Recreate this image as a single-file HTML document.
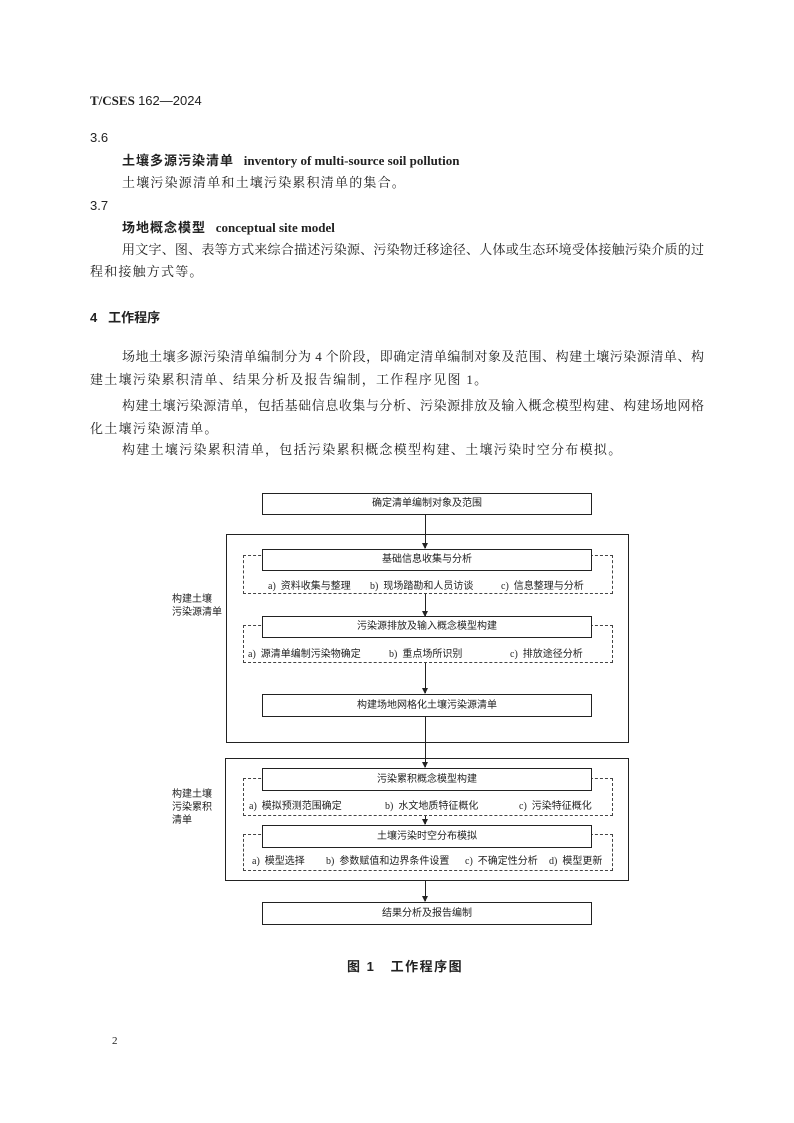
<!DOCTYPE html>
<html><head><meta charset="utf-8">
<style>
body{margin:0;background:#fff;}
#p{position:relative;width:794px;height:1123px;overflow:hidden;background:#fff;font-family:"Liberation Serif","Noto Serif CJK SC","Noto Sans CJK SC",serif;color:#222;font-size:13px;}
.t{position:absolute;white-space:nowrap;line-height:16px;}
.j{position:absolute;white-space:nowrap;line-height:16px;text-align:justify;text-align-last:justify;}
.b{font-family:"Liberation Serif","Noto Sans CJK SC",sans-serif;font-weight:bold;}
.s{font-family:"Liberation Sans","Noto Sans CJK SC",sans-serif;}
.box{position:absolute;border:1.3px solid #222;background:#fff;box-sizing:border-box;font-family:"Liberation Sans","Noto Sans CJK SC",sans-serif;font-size:10px;text-align:center;}
.ob{position:absolute;border:1.3px solid #222;box-sizing:border-box;}
.dash{position:absolute;border:1px dashed #444;box-sizing:border-box;}
.it{position:absolute;font-size:10px;white-space:nowrap;font-family:"Liberation Serif","Noto Sans CJK SC",sans-serif;}
.vl{position:absolute;left:425px;width:1px;background:#222;}
.ah{position:absolute;left:422px;width:0;height:0;border-left:3.5px solid transparent;border-right:3.5px solid transparent;border-top:6px solid #222;}
.lab{position:absolute;font-size:10px;line-height:13px;font-family:"Liberation Sans","Noto Sans CJK SC",sans-serif;}
</style></head><body><div id="p">
<div class="t" style="left:90px;top:93px;"><span class="b" style="font-weight:bold">T/CSES</span> <span class="s">162—2024</span></div>
<div class="t s" style="left:90px;top:130px;">3.6</div>
<div class="t" style="left:122px;top:153px;"><span class="s" style="font-weight:bold;letter-spacing:1px">土壤多源污染清单</span>&nbsp;&nbsp;&nbsp;<b>inventory of multi-source soil pollution</b></div>
<div class="t" style="left:122px;top:175px;letter-spacing:1.2px;">土壤污染源清单和土壤污染累积清单的集合。</div>
<div class="t s" style="left:90px;top:198px;">3.7</div>
<div class="t" style="left:122px;top:220px;"><span class="s" style="font-weight:bold;letter-spacing:1px">场地概念模型</span>&nbsp;&nbsp;&nbsp;<b>conceptual site model</b></div>
<div class="j" style="left:122px;top:242px;width:582px;">用文字、图、表等方式来综合描述污染源、污染物迁移途径、人体或生态环境受体接触污染介质的过</div>
<div class="t" style="left:90px;top:264px;letter-spacing:1.2px;">程和接触方式等。</div>
<div class="t s" style="left:90px;top:310px;font-weight:bold;">4&nbsp;&nbsp;&nbsp;工作程序</div>
<div class="j" style="left:122px;top:349px;width:582px;">场地土壤多源污染清单编制分为 4 个阶段，即确定清单编制对象及范围、构建土壤污染源清单、构</div>
<div class="t" style="left:90px;top:372px;letter-spacing:1.3px;">建土壤污染累积清单、结果分析及报告编制，工作程序见图 1。</div>
<div class="j" style="left:122px;top:398px;width:582px;">构建土壤污染源清单，包括基础信息收集与分析、污染源排放及输入概念模型构建、构建场地网格</div>
<div class="t" style="left:90px;top:421px;letter-spacing:1.3px;">化土壤污染源清单。</div>
<div class="t" style="left:122px;top:442px;letter-spacing:1.3px;">构建土壤污染累积清单，包括污染累积概念模型构建、土壤污染时空分布模拟。</div>

<div class="ob" style="left:226px;top:534px;width:403px;height:209px;"></div>
<div class="ob" style="left:225px;top:758px;width:404px;height:123px;"></div>

<div class="dash" style="left:243px;top:555px;width:370px;height:39px;"></div>
<div class="dash" style="left:243px;top:625px;width:370px;height:38px;"></div>
<div class="dash" style="left:243px;top:778px;width:370px;height:38px;"></div>
<div class="dash" style="left:243px;top:834px;width:370px;height:37px;"></div>

<div class="vl" style="top:514px;height:34px;"></div><div class="ah" style="top:543px;"></div>
<div class="vl" style="top:594px;height:22px;"></div><div class="ah" style="top:611px;"></div>
<div class="vl" style="top:663px;height:30px;"></div><div class="ah" style="top:688px;"></div>
<div class="vl" style="top:716px;height:51px;"></div><div class="ah" style="top:762px;"></div>
<div class="vl" style="top:816px;height:8px;"></div><div class="ah" style="top:819px;"></div>
<div class="vl" style="top:881px;height:20px;"></div><div class="ah" style="top:896px;"></div>

<div class="box" style="left:262px;top:493px;width:330px;height:22px;line-height:20px;">确定清单编制对象及范围</div>
<div class="box" style="left:262px;top:549px;width:330px;height:22px;line-height:20px;">基础信息收集与分析</div>
<div class="box" style="left:262px;top:616px;width:330px;height:22px;line-height:20px;">污染源排放及输入概念模型构建</div>
<div class="box" style="left:262px;top:694px;width:330px;height:23px;line-height:21px;">构建场地网格化土壤污染源清单</div>
<div class="box" style="left:262px;top:768px;width:330px;height:23px;line-height:21px;">污染累积概念模型构建</div>
<div class="box" style="left:262px;top:825px;width:330px;height:23px;line-height:21px;">土壤污染时空分布模拟</div>
<div class="box" style="left:262px;top:902px;width:330px;height:23px;line-height:21px;">结果分析及报告编制</div>

<div class="it" style="left:268px;top:577px;">a)&nbsp;&nbsp;资料收集与整理</div>
<div class="it" style="left:370px;top:577px;">b)&nbsp;&nbsp;现场踏勘和人员访谈</div>
<div class="it" style="left:501px;top:577px;">c)&nbsp;&nbsp;信息整理与分析</div>
<div class="it" style="left:248px;top:645px;">a)&nbsp;&nbsp;源清单编制污染物确定</div>
<div class="it" style="left:389px;top:645px;">b)&nbsp;&nbsp;重点场所识别</div>
<div class="it" style="left:510px;top:645px;">c)&nbsp;&nbsp;排放途径分析</div>
<div class="it" style="left:249px;top:797px;">a)&nbsp;&nbsp;模拟预测范围确定</div>
<div class="it" style="left:385px;top:797px;">b)&nbsp;&nbsp;水文地质特征概化</div>
<div class="it" style="left:519px;top:797px;">c)&nbsp;&nbsp;污染特征概化</div>
<div class="it" style="left:252px;top:852px;">a)&nbsp;&nbsp;模型选择</div>
<div class="it" style="left:326px;top:852px;">b)&nbsp;&nbsp;参数赋值和边界条件设置</div>
<div class="it" style="left:465px;top:852px;">c)&nbsp;&nbsp;不确定性分析</div>
<div class="it" style="left:549px;top:852px;">d)&nbsp;&nbsp;模型更新</div>

<div class="lab" style="left:172px;top:593px;">构建土壤<br>污染源清单</div>
<div class="lab" style="left:172px;top:788px;">构建土壤<br>污染累积<br>清单</div>

<div class="t s" style="left:347px;top:959px;font-weight:bold;letter-spacing:1.5px;">图 1&nbsp;&nbsp;&nbsp;工作程序图</div>
<div class="t" style="left:112px;top:1033px;font-size:11px;">2</div>
</div></body></html>
